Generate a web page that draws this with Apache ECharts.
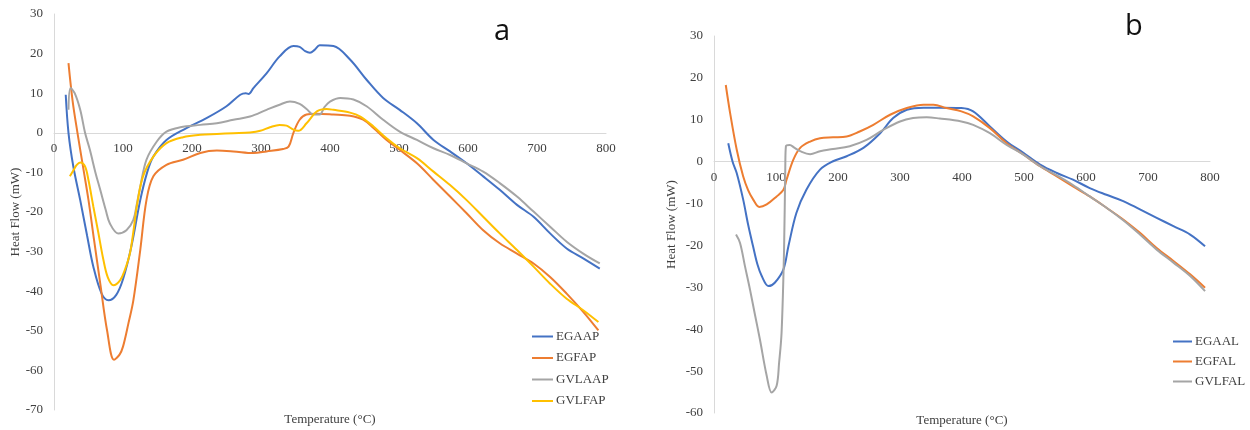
<!DOCTYPE html>
<html>
<head>
<meta charset="utf-8">
<script src="https://cdn.jsdelivr.net/npm/echarts@6/dist/echarts.min.js"></script>
<style>html,body{margin:0;padding:0;background:#fff}#c{width:1250px;height:430px}</style>
</head>
<body>
<div id="c"></div>
<script>
// Panel a: [temperature °C, heat flow mW]
const EGAAP = [[17,9.6],[21,0],[28,-8.5],[38,-17],[48,-26],[57,-33.8],[69,-40.6],[79,-42.3],[90,-41],[100,-37],[112,-28.8],[125,-17],[135,-10],[144,-6],[163,-1.8],[192,1.2],[221,3.7],[250,6.7],[270,9.6],[278,10],[282,9.8],[289,11.3],[308,15],[327,19.3],[347,21.9],[356,21.7],[364,20.6],[371,20.2],[378,21],[385,22.1],[405,21.9],[429,18.5],[453,13.4],[477,8.8],[501,5.8],[526,2.4],[550,-1.8],[574,-4.7],[598,-7.7],[622,-11],[646,-14.4],[671,-18.2],[695,-21.2],[719,-25.4],[743,-29.2],[767,-31.7],[791,-34.3]];
const EGFAP = [[21,17.6],[27,8],[34,0],[42,-8.5],[50,-17],[58,-27],[67,-38],[77,-50],[87,-57.3],[95,-56],[100,-54],[108,-48],[115,-42.3],[125,-29.6],[134,-17],[144,-11],[163,-8.1],[187,-6.8],[212,-5.1],[236,-4.5],[260,-4.7],[289,-5.1],[308,-4.7],[332,-4.1],[340,-3.5],[347,0],[356,3.3],[366,4.6],[380,4.8],[405,4.6],[429,4.3],[448,3.3],[463,1.2],[482,-1.8],[501,-4.3],[526,-7.7],[550,-11.9],[574,-16.1],[598,-20.3],[622,-24.6],[646,-27.9],[671,-30.5],[695,-33],[719,-36.4],[743,-40.6],[767,-45.2],[789,-49.9]];
const GVLAAP = [[21,5.8],[24,11.3],[30,10],[38,5.8],[45,0],[52,-4.3],[60,-10],[67,-14.4],[75,-19.5],[81,-22.9],[93,-25.4],[105,-24.6],[115,-22],[120,-18],[125,-13.6],[134,-6.8],[149,-2.2],[163,0.3],[183,1.4],[212,2],[236,2.4],[260,3.3],[284,4.1],[308,5.8],[327,7.1],[342,7.9],[356,7.3],[366,6],[376,4.6],[385,4.6],[392,6.5],[400,7.9],[415,8.8],[434,8.4],[453,6.7],[477,3.3],[501,0.3],[526,-1.8],[550,-3.9],[574,-5.6],[598,-7.7],[622,-9.8],[646,-12.7],[671,-16.1],[695,-19.9],[719,-23.7],[743,-27.5],[767,-30.5],[791,-33]];
const GVLFAP = [[23,-11],[28,-9.5],[33,-8.1],[38,-7.5],[45,-8.5],[50,-12],[57,-18.6],[64,-25],[71.5,-32],[78,-36.5],[86,-38.5],[96,-37.2],[103,-34.5],[110,-30.5],[115,-25],[120,-18.6],[129,-11],[144,-6],[163,-2.6],[187,-1.1],[212,-0.5],[236,-0.3],[260,-0.1],[284,0.1],[299,0.5],[313,1.4],[327,2],[337,1.8],[347,0.8],[354,0.5],[366,2.4],[381,5.4],[395,6],[405,5.8],[429,5.1],[444,4.1],[463,1.6],[482,-1.4],[501,-3.9],[526,-6.4],[550,-9.8],[574,-13.2],[598,-17],[622,-21.2],[646,-25.4],[671,-29.6],[695,-33.8],[719,-38.1],[743,-41.9],[767,-44.8],[789,-47.8]];
// Panel b
const EGAAL = [[23,4.4],[30,0],[36.6,-2.7],[47,-9],[55,-15],[63,-20.2],[70,-24.5],[77,-27.3],[88,-29.7],[98,-28.9],[112,-25.7],[120,-20.2],[133,-12.2],[149,-6.7],[171,-1.9],[192,0.1],[214,1.3],[241,3.3],[268,6.8],[289,10.4],[311,12.4],[338,12.9],[364,12.9],[399,12.8],[418,12],[445,8.4],[472,4.8],[499,2.1],[526,-0.7],[553,-2.7],[579,-4.3],[606,-6.3],[633,-7.9],[660,-9.4],[687,-11.4],[714,-13.4],[741,-15.4],[768,-17.4],[792,-20.2]];
const EGFAL = [[19,18.3],[26,11.6],[36.6,2.9],[47,-3.5],[55,-6.8],[63,-9],[73,-10.8],[85,-10.2],[101,-8.3],[112,-6.7],[117,-4.3],[128,0.5],[139,3.3],[155,4.8],[171,5.6],[192,5.8],[214,6],[235,7.2],[257,8.8],[284,11.2],[311,12.8],[338,13.6],[354,13.6],[375,12.8],[399,12],[418,10.8],[445,8],[472,4.4],[499,1.7],[526,-1.1],[553,-3.5],[579,-5.9],[606,-8.3],[633,-11],[660,-13.8],[687,-17],[714,-20.6],[741,-23.7],[768,-26.9],[792,-30.1]];
const GVLFAL = [[35.5,-17.4],[42,-19.4],[50,-25],[58,-30.5],[66,-36.5],[74,-42.4],[85,-51.1],[93,-55.1],[101,-53.5],[105,-48],[109,-40.8],[113,-21],[115,-1.1],[116,3.7],[122,4],[130,3.3],[139,2.5],[155,1.8],[171,2.5],[192,3],[219,3.7],[246,5.2],[273,7.6],[300,9.6],[321,10.4],[343,10.6],[364,10.3],[399,9.6],[418,8.8],[445,6.8],[472,4],[499,1.7],[526,-1.1],[553,-3.3],[579,-5.6],[606,-8.3],[633,-11],[660,-14],[687,-17.4],[714,-21],[741,-24.1],[768,-27.3],[792,-30.9]];

const legendA = ['EGAAP','EGFAP','GVLAAP','GVLFAP'];
const legendB = ['EGAAL','EGFAL','GVLFAL'];
const panelLabels = ['a','b'];
const xName = 'Temperature (°C)';
const yName = 'Heat Flow (mW)';

const COLORS = {blue:'#4472C4', orange:'#ED7D31', gray:'#A5A5A5', yellow:'#FFC000'};
const SERIF = 'Liberation Serif, Times New Roman, serif';
const TXT = '#404040';
const AXIS = '#D9D9D9';

// grid geometry
const GA = {left:54, top:14, width:552, height:396, ymin:-70, ymax:30};
const GB = {left:714, top:36, width:496, height:377, ymin:-60, ymax:30};
// offset that places the bottom x axis at y = 0 (axis crosses at zero)
function zeroOffset(g){ return -g.height * (0 - g.ymin) / (g.ymax - g.ymin); }

function xAxisDef(gi, g){
  return {type:'value', gridIndex:gi, min:0, max:800, interval:100, position:'bottom',
    offset: zeroOffset(g),
    axisLine:{show:true, onZero:false, lineStyle:{color:AXIS, width:1}},
    axisTick:{show:false}, splitLine:{show:false},
    axisLabel:{color:TXT, fontFamily:SERIF, fontSize:13, margin:9}};
}
function yAxisDef(gi, g, gap){
  return {type:'value', gridIndex:gi, min:g.ymin, max:g.ymax, interval:10,
    name:yName, nameLocation:'middle', nameGap:gap, nameRotate:90,
    nameTextStyle:{color:TXT, fontFamily:SERIF, fontSize:13},
    axisLine:{show:true, onZero:false, lineStyle:{color:AXIS, width:1}},
    axisTick:{show:false}, splitLine:{show:false},
    axisLabel:{color:TXT, fontFamily:SERIF, fontSize:13, margin:11}};
}
function line(name, data, color, gi){
  return {name, type:'line', data, xAxisIndex:gi, yAxisIndex:gi,
    smooth:0.35, symbol:'none', showSymbol:false,
    lineStyle:{color, width:2}, itemStyle:{color}, z:3};
}

const chart = echarts.init(document.getElementById('c'), null, {renderer:'canvas'});
chart.setOption({
  animation:false,
  backgroundColor:'#fff',
  grid:[
    {left:GA.left, top:GA.top, width:GA.width, height:GA.height},
    {left:GB.left, top:GB.top, width:GB.width, height:GB.height}
  ],
  xAxis:[xAxisDef(0, GA), xAxisDef(1, GB)],
  yAxis:[yAxisDef(0, GA, 25), yAxisDef(1, GB, 36)],
  legend:[
    {data:legendA, orient:'vertical', left:527, top:324, itemWidth:21, itemHeight:2, itemGap:6.5, icon:'rect',
     textStyle:{color:TXT, fontFamily:SERIF, fontSize:13, lineHeight:15, padding:[0,0,0,-2]}},
    {data:legendB, orient:'vertical', left:1168, top:329, itemWidth:19, itemHeight:2, itemGap:5, icon:'rect',
     textStyle:{color:TXT, fontFamily:SERIF, fontSize:13, lineHeight:15, padding:[0,0,0,-2]}}
  ],
  graphic:[
    {type:'text', left:494, top:17, style:{text:panelLabels[0], font:'29px "Open Sans", sans-serif', fill:'#111'}},
    {type:'text', left:1125, top:12, style:{text:panelLabels[1], font:'29px "Open Sans", sans-serif', fill:'#111'}},
    {type:'text', x:330, y:420, style:{text:xName, textAlign:'center', textVerticalAlign:'middle', font:'13px "Liberation Serif", serif', fill:TXT}},
    {type:'text', x:962, y:421, style:{text:xName, textAlign:'center', textVerticalAlign:'middle', font:'13px "Liberation Serif", serif', fill:TXT}}
  ],
  series:[
    line('EGAAP', EGAAP, COLORS.blue, 0),
    line('EGFAP', EGFAP, COLORS.orange, 0),
    line('GVLAAP', GVLAAP, COLORS.gray, 0),
    line('GVLFAP', GVLFAP, COLORS.yellow, 0),
    line('EGAAL', EGAAL, COLORS.blue, 1),
    line('EGFAL', EGFAL, COLORS.orange, 1),
    line('GVLFAL', GVLFAL, COLORS.gray, 1)
  ]
});
</script>
</body>
</html>
